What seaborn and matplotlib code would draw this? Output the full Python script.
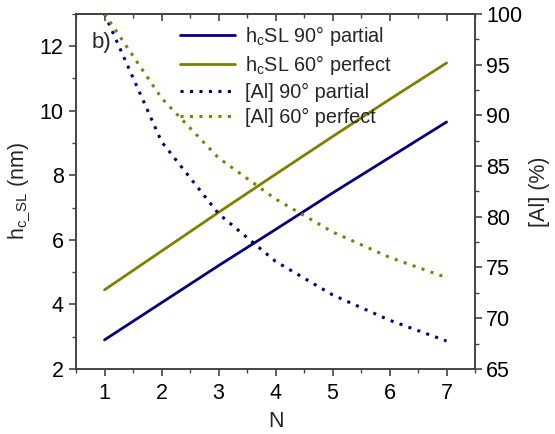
import numpy as np
import pandas as pd
import matplotlib
matplotlib.use("Agg")
import matplotlib.pyplot as plt
import seaborn as sns
from matplotlib.ticker import MultipleLocator

N = [1, 2, 3, 4, 5, 6, 7]
hc_90_partial = [2.9, 4.05, 5.2, 6.32, 7.45, 8.55, 9.65]
hc_60_perfect = [4.45, 5.65, 6.85, 8.03, 9.2, 10.35, 11.48]
al_90_partial = [100.0, 87.4, 80.3, 75.6, 72.3, 69.8, 67.75]
al_60_perfect = [100.0, 91.7, 85.8, 81.75, 78.5, 76.0, 74.0]

BLUE = "#000080"
OLIVE = "#808000"
AXC = "#444444"

sns.set_style("ticks")
plt.rcParams['font.family'] = ['Liberation Sans', 'DejaVu Sans']
plt.rcParams['mathtext.fontset'] = 'custom'
plt.rcParams['mathtext.rm'] = 'Liberation Sans'
plt.rcParams['mathtext.it'] = 'Liberation Sans'
plt.rcParams['mathtext.default'] = 'regular'

fig = plt.figure(figsize=(5.55, 4.34), dpi=100)
ax = fig.add_axes([0.137, 0.150, 0.719, 0.818])
ax2 = ax.twinx()

df = pd.DataFrame({"N": N, "h90": hc_90_partial, "h60": hc_60_perfect,
                   "a90": al_90_partial, "a60": al_60_perfect})

sns.lineplot(data=df, x="N", y="h90", ax=ax, color=BLUE, lw=2,
             label=r"h$_c$SL 90° partial", legend=False)
sns.lineplot(data=df, x="N", y="h60", ax=ax, color=OLIVE, lw=2,
             label=r"h$_c$SL 60° perfect", legend=False)
sns.lineplot(data=df, x="N", y="a90", ax=ax2, color=BLUE, lw=2.2,
             linestyle=(0, (1, 2.1)), label="[Al] 90° partial", legend=False)
sns.lineplot(data=df, x="N", y="a60", ax=ax2, color=OLIVE, lw=2.2,
             linestyle=(0, (1, 2.1)), label="[Al] 60° perfect", legend=False)

ax.set_xlim(0.5, 7.5)
ax.set_ylim(2, 13)
ax2.set_ylim(65, 100)

ax.xaxis.set_major_locator(MultipleLocator(1))
ax.xaxis.set_minor_locator(MultipleLocator(0.5))
ax.yaxis.set_major_locator(MultipleLocator(2))
ax.yaxis.set_minor_locator(MultipleLocator(1))
ax2.yaxis.set_major_locator(MultipleLocator(5))
ax2.yaxis.set_minor_locator(MultipleLocator(2.5))

for a in (ax, ax2):
    for s in a.spines.values():
        s.set_visible(True)
        s.set_color(AXC)
        s.set_linewidth(1.2)

ax.tick_params(axis='both', which='major', direction='out', length=5, width=1.2,
               labelsize=15.5, colors=AXC, labelcolor="black", pad=4)
ax.tick_params(axis='both', which='minor', direction='out', length=3, width=1.0,
               colors=AXC)
ax.tick_params(axis='x', which='both', top=False, pad=5)
ax2.tick_params(axis='y', which='major', direction='out', length=5, width=1.2,
                labelsize=15.5, colors=AXC, labelcolor="black", pad=3)
ax2.tick_params(axis='y', which='minor', direction='out', length=3, width=1.0,
                colors=AXC)

# top ticks inward via secondary axis
sec = ax.secondary_xaxis('top')
sec.xaxis.set_major_locator(MultipleLocator(1))
sec.xaxis.set_minor_locator(MultipleLocator(0.5))
sec.tick_params(which='major', direction='in', length=5, width=1.2, labeltop=False, colors=AXC)
sec.tick_params(which='minor', direction='in', length=3, width=1.0, labeltop=False, colors=AXC)
sec.spines['top'].set_color(AXC)
sec.spines['top'].set_linewidth(1.2)

ax.set_xlabel("N", fontsize=15.5, labelpad=5)
ax.set_ylabel(r"h$_{c\_SL}$ (nm)", fontsize=15.5, labelpad=5)
ax2.set_ylabel("[Al] (%)", fontsize=15.5, labelpad=5)

ax.text(0.04, 0.918, "b)", transform=ax.transAxes, fontsize=16, va='center')

h1, l1 = ax.get_legend_handles_labels()
h2, l2 = ax2.get_legend_handles_labels()
ax2.legend(h1 + h2, l1 + l2, loc='upper left', bbox_to_anchor=(0.235, 1.0),
           frameon=False, fontsize=14.3, handlelength=2.8, handletextpad=0.5,
           labelspacing=0.28, borderaxespad=0.1)

fig.savefig("out.png", dpi=100)
